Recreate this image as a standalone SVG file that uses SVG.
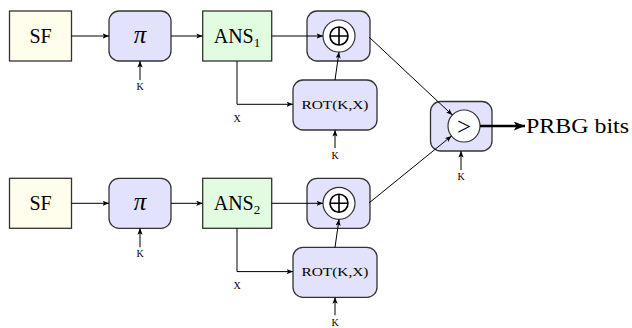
<svg xmlns="http://www.w3.org/2000/svg" width="632" height="328" viewBox="0 0 632 328">
<defs>
<marker id="ah" viewBox="0 0 10 8" refX="10" refY="4" markerWidth="6.5" markerHeight="5.2" markerUnits="userSpaceOnUse" orient="auto">
<path d="M0,0 L10,4 L0,8 L2.5,4 Z" fill="#000"/>
</marker>
<marker id="ahb" viewBox="0 0 10 8" refX="10" refY="4" markerWidth="12" markerHeight="9" markerUnits="userSpaceOnUse" orient="auto">
<path d="M0,0 L10,4 L0,8 L2.5,4 Z" fill="#000"/>
</marker>
<style>
.sf{fill:#fffdeb;stroke:#333;stroke-width:1.3}
.bl{fill:#e2e2fc;stroke:#333;stroke-width:1.3}
.gr{fill:#e2fce2;stroke:#333;stroke-width:1.3}
.wc{fill:#fff;stroke:#333;stroke-width:1.2}
text{font-family:'Liberation Serif','Times New Roman',serif;fill:#000}
.big{font-size:20px}
.sym{font-size:25px}
.sm{font-size:10px}
.rot{font-size:11.5px}
.ln{fill:none;stroke:#000;stroke-width:1}
.th{fill:none;stroke:#000;stroke-width:2.6}
</style>
</defs>

<g id="sf1"><rect class="sf" x="9.5" y="11" width="62" height="50"/><text class="big" x="40.5" y="43" text-anchor="middle">SF</text></g>
<g id="pi1"><rect class="bl" x="109" y="11" width="62" height="50" rx="10"/><text class="sym" x="140" y="43" text-anchor="middle" font-style="italic">π</text></g>
<g id="ans1"><rect class="gr" x="202.7" y="11" width="69" height="50"/><text class="big" x="237" y="43" text-anchor="middle">ANS<tspan font-size="13" dy="4">1</tspan></text></g>
<g id="xor1"><rect class="bl" x="307" y="11" width="63" height="50" rx="10"/><circle class="wc" cx="339" cy="36" r="16"/><circle cx="339" cy="36" r="9" fill="none" stroke="#000" stroke-width="1.6"/><path d="M330,36 H348 M339,27 V45" stroke="#000" stroke-width="1.6"/></g>
<g id="rot1"><rect class="bl" x="293" y="80" width="84" height="50" rx="10"/><text class="rot" x="335" y="108.5" text-anchor="middle" textLength="67" lengthAdjust="spacingAndGlyphs">ROT(K,X)</text></g>

<g id="sf2"><rect class="sf" x="9.5" y="178.3" width="62" height="50"/><text class="big" x="40.5" y="210.3" text-anchor="middle">SF</text></g>
<g id="pi2"><rect class="bl" x="109" y="178.3" width="62" height="50" rx="10"/><text class="sym" x="140" y="210.3" text-anchor="middle" font-style="italic">π</text></g>
<g id="ans2"><rect class="gr" x="202.7" y="178.3" width="69" height="50"/><text class="big" x="237" y="210.3" text-anchor="middle">ANS<tspan font-size="13" dy="4">2</tspan></text></g>
<g id="xor2"><rect class="bl" x="307" y="178.3" width="63" height="50" rx="10"/><circle class="wc" cx="339" cy="203.3" r="16"/><circle cx="339" cy="203.3" r="9" fill="none" stroke="#000" stroke-width="1.6"/><path d="M330,203.3 H348 M339,194.3 V212.3" stroke="#000" stroke-width="1.6"/></g>
<g id="rot2"><rect class="bl" x="293" y="247.3" width="84" height="50" rx="10"/><text class="rot" x="335" y="275.8" text-anchor="middle" textLength="67" lengthAdjust="spacingAndGlyphs">ROT(K,X)</text></g>

<g id="cmp"><rect class="bl" x="430.5" y="101.5" width="61.5" height="49.5" rx="10"/><circle class="wc" cx="464" cy="126" r="16"/><text class="sym" x="464" y="134.5" text-anchor="middle">&gt;</text></g>
<g id="out"><text class="big" x="526" y="133" textLength="103" lengthAdjust="spacingAndGlyphs">PRBG bits</text></g>

<g id="labels">
<text class="sm" x="140" y="90" text-anchor="middle">K</text>
<text class="sm" x="237" y="121.5" text-anchor="middle">X</text>
<text class="sm" x="335" y="159" text-anchor="middle">K</text>
<text class="sm" x="461" y="180" text-anchor="middle">K</text>
<text class="sm" x="140" y="257.3" text-anchor="middle">K</text>
<text class="sm" x="237" y="288.8" text-anchor="middle">X</text>
<text class="sm" x="335" y="326.3" text-anchor="middle">K</text>
</g>

<g id="connectors">
<line class="ln" x1="71.5" y1="36" x2="109" y2="36" marker-end="url(#ah)"/>
<line class="ln" x1="171" y1="36" x2="202.7" y2="36" marker-end="url(#ah)"/>
<line class="ln" x1="271.7" y1="36" x2="323" y2="36" marker-end="url(#ah)"/>
<line class="ln" x1="140" y1="80" x2="140" y2="61" marker-end="url(#ah)"/>
<polyline class="ln" points="237,61 237,104.3 293,104.3" marker-end="url(#ah)"/>
<line class="ln" x1="335" y1="80" x2="339" y2="52" marker-end="url(#ah)"/>
<line class="ln" x1="335" y1="148" x2="335" y2="130" marker-end="url(#ah)"/>
<line class="ln" x1="369" y1="37" x2="452.3" y2="115" marker-end="url(#ah)"/>

<line class="ln" x1="71.5" y1="203.3" x2="109" y2="203.3" marker-end="url(#ah)"/>
<line class="ln" x1="171" y1="203.3" x2="202.7" y2="203.3" marker-end="url(#ah)"/>
<line class="ln" x1="271.7" y1="203.3" x2="323" y2="203.3" marker-end="url(#ah)"/>
<line class="ln" x1="140" y1="247.3" x2="140" y2="228.3" marker-end="url(#ah)"/>
<polyline class="ln" points="237,228.3 237,271.6 293,271.6" marker-end="url(#ah)"/>
<line class="ln" x1="335" y1="247.3" x2="339" y2="219.3" marker-end="url(#ah)"/>
<line class="ln" x1="335" y1="315.3" x2="335" y2="297.3" marker-end="url(#ah)"/>
<line class="ln" x1="369" y1="203" x2="451.5" y2="136" marker-end="url(#ah)"/>

<line class="ln" x1="461" y1="170" x2="461" y2="151" marker-end="url(#ah)"/>
<line class="th" x1="480" y1="126" x2="525" y2="126" marker-end="url(#ahb)"/>
</g>
</svg>
